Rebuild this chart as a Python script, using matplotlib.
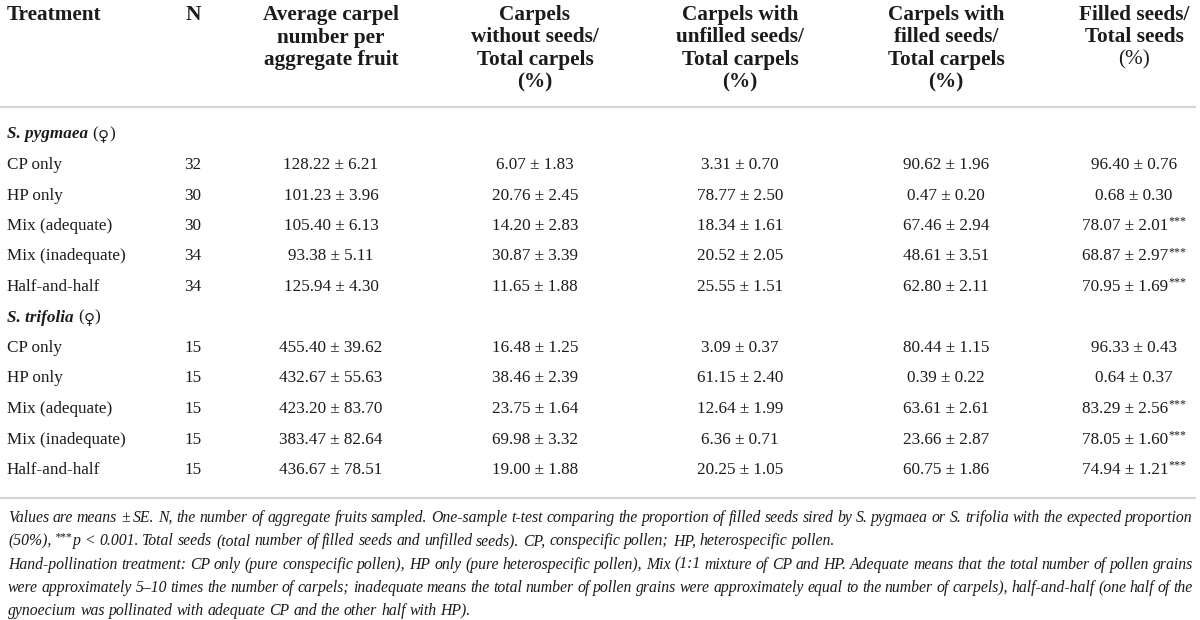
import matplotlib
matplotlib.use('Agg')
import matplotlib.pyplot as plt

plt.rcParams['font.family'] = ['Liberation Serif', 'DejaVu Serif']

# ---- table data ----
treatments = ["CP only", "HP only", "Mix (adequate)", "Mix (inadequate)", "Half-and-half"]
species = ["S. pygmaea", "S. trifolia"]

pyg_n = [32, 30, 30, 34, 34]
trif_n = [15, 15, 15, 15, 15]

# columns: carpel number, without seeds, unfilled, filled carpels, filled seeds
pyg_mean = [[128.22, 101.23, 105.40, 93.38, 125.94],
            [6.07, 20.76, 14.20, 30.87, 11.65],
            [3.31, 78.77, 18.34, 20.52, 25.55],
            [90.62, 0.47, 67.46, 48.61, 62.80],
            [96.40, 0.68, 78.07, 68.87, 70.95]]
pyg_se = [[6.21, 3.96, 6.13, 5.11, 4.30],
          [1.83, 2.45, 2.83, 3.39, 1.88],
          [0.70, 2.50, 1.61, 2.05, 1.51],
          [1.96, 0.20, 2.94, 3.51, 2.11],
          [0.76, 0.30, 2.01, 2.97, 1.69]]
trif_mean = [[455.40, 432.67, 423.20, 383.47, 436.67],
             [16.48, 38.46, 23.75, 69.98, 19.00],
             [3.09, 61.15, 12.64, 6.36, 20.25],
             [80.44, 0.39, 63.61, 23.66, 60.75],
             [96.33, 0.64, 83.29, 78.05, 74.94]]
trif_se = [[39.62, 55.63, 83.70, 82.64, 78.51],
           [1.25, 2.39, 1.64, 3.32, 1.88],
           [0.37, 2.40, 1.99, 0.71, 1.05],
           [1.15, 0.22, 2.61, 2.87, 1.86],
           [0.43, 0.37, 2.56, 1.60, 1.21]]
# significance flags (last column only)
pyg_sig = [False, False, True, True, True]
trif_sig = [False, False, True, True, True]

headers = [["Average carpel", "number per", "aggregate fruit"],
           ["Carpels", "without seeds/", "Total carpels", "(%)"],
           ["Carpels with", "unfilled seeds/", "Total carpels", "(%)"],
           ["Carpels with", "filled seeds/", "Total carpels", "(%)"],
           ["Filled seeds/", "Total seeds", "(%)"]]

notes = [
    ("Values are means ± SE. N, the number of aggregate fruits sampled. One-sample t-test comparing the proportion "
     "of filled seeds sired by S. pygmaea or S. trifolia with the expected proportion", True),
    ("(50%), ***p < 0.001. Total seeds (total number of filled seeds and unfilled seeds). CP, conspecific "
     "pollen; HP, heterospecific pollen.", False),
    ("Hand-pollination treatment: CP only (pure conspecific pollen), HP only (pure heterospecific pollen), Mix (1:1 "
     "mixture of CP and HP. Adequate means that the total number of pollen grains", True),
    ("were approximately 5–10 times the number of carpels; inadequate means the total number of pollen grains were "
     "approximately equal to the number of carpels), half-and-half (one half of the", True),
    ("gynoecium was pollinated with adequate CP and the other half with HP).", False),
]

# ---- layout ----
W, H = 1200, 620
fig = plt.figure(figsize=(W / 100, H / 100), dpi=100)
ax = fig.add_axes([0, 0, 1, 1])
ax.set_xlim(0, W)
ax.set_ylim(H, 0)
ax.axis('off')
renderer = fig.canvas.get_renderer()

ink = '#1c1a1a'
rule = '#d6d6d6'
x_left = 7
x_n = 193
x_cols = [331, 535, 740, 946, 1134]
head_y0, head_dy = 15, 22.5
row_y0, row_dy = 134.5, 30.5
fs_head = 15.3
fs_body = 12.3
fs_note = 11.3
fs_star = 8.6


def width(t):
    return t.get_window_extent(renderer).width


# header
ax.text(x_left, head_y0, "Treatment", fontsize=fs_head, fontweight='bold', color=ink, va='center', ha='left')
ax.text(x_n, head_y0, "N", fontsize=fs_head, fontweight='bold', color=ink, va='center', ha='center')
for xc, lines in zip(x_cols, headers):
    for i, line in enumerate(lines):
        w = 'bold'
        if xc == x_cols[-1] and line == "(%)":
            w = 'normal'
        ax.text(xc, head_y0 + i * head_dy, line, fontsize=fs_head, fontweight=w, color=ink,
                va='center', ha='center')

ax.plot([0, 1196], [107, 107], color=rule, lw=1.6, solid_capstyle='butt')
ax.plot([0, 1196], [498, 498], color=rule, lw=1.6, solid_capstyle='butt')

blocks = [(pyg_n, pyg_mean, pyg_se, pyg_sig), (trif_n, trif_mean, trif_se, trif_sig)]
row = 0
for sp, (ns, means, ses, sig) in zip(species, blocks):
    y = row_y0 + row * row_dy
    t = ax.text(x_left, y, sp + " ", fontsize=fs_body, fontweight='bold', fontstyle='italic', color=ink,
                va='center', ha='left')
    xx = x_left + width(t)
    t = ax.text(xx, y, "(", fontsize=fs_body, color=ink, va='center', ha='left')
    xx += width(t)
    t = ax.text(xx, y + 1, "♀", fontsize=fs_body - 1.5, family='DejaVu Sans', color=ink, va='center', ha='left')
    xx += width(t)
    ax.text(xx, y, ")", fontsize=fs_body, color=ink, va='center', ha='left')
    row += 1
    for i, tr in enumerate(treatments):
        y = row_y0 + row * row_dy
        ax.text(x_left, y, tr, fontsize=fs_body, color=ink, va='center', ha='left')
        ax.text(x_n, y, str(ns[i]), fontsize=fs_body, color=ink, va='center', ha='center')
        for c, xc in enumerate(x_cols):
            s = "%.2f ± %.2f" % (means[c][i], ses[c][i])
            if c == len(x_cols) - 1 and sig[i]:
                t1 = ax.text(0, y, s, fontsize=fs_body, color=ink, va='center', ha='left')
                t2 = ax.text(0, y - 4.5, "***", fontsize=fs_star, color=ink, va='center', ha='left')
                w1, w2 = width(t1), width(t2)
                t1.set_x(xc - (w1 + w2) / 2)
                t2.set_x(xc - (w1 + w2) / 2 + w1 + 0.5)
            else:
                ax.text(xc, y, s, fontsize=fs_body, color=ink, va='center', ha='center')
        row += 1

# footnotes, justified like the journal layout
note_y0, note_dy = 518, 23.3
x0, x1 = 8, 1193
for k, (line, justify) in enumerate(notes):
    y = note_y0 + k * note_dy
    words = line.split(" ")
    texts = []
    widths = []
    for wd in words:
        if wd.startswith("***"):
            # superscript stars in front of p
            ts = ax.text(0, y - 4, "***", fontsize=fs_note - 3, fontstyle='italic', color=ink,
                         va='center', ha='left')
            tp = ax.text(0, y, wd[3:], fontsize=fs_note, fontstyle='italic', color=ink, va='center', ha='left')
            texts.append((ts, tp))
            widths.append(width(ts) + width(tp))
        else:
            tt = ax.text(0, y, wd, fontsize=fs_note, fontstyle='italic', color=ink, va='center', ha='left')
            texts.append((tt,))
            widths.append(width(tt))
    if justify:
        gap = (x1 - x0 - sum(widths)) / (len(words) - 1)
    else:
        gap = fs_note * 0.25 * 100 / 72
    x = x0
    for parts, wd in zip(texts, widths):
        xp = x
        for p in parts:
            p.set_x(xp)
            xp += width(p)
        x += wd + gap

fig.savefig("out.png", dpi=100)
